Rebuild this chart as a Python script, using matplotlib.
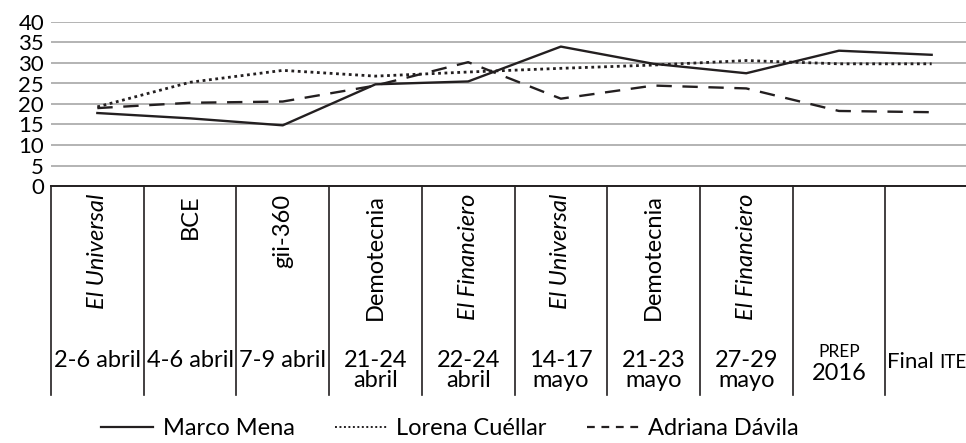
import matplotlib.pyplot as plt
import matplotlib.transforms as mtransforms
from matplotlib.lines import Line2D

plt.rcParams['font.family'] = ['Lato', 'DejaVu Sans']

# pollster / date labels for each poll
pollsters = ['El Universal', 'BCE', 'gii-360', 'Demotecnia', 'El Financiero',
             'El Universal', 'Demotecnia', 'El Financiero', '', '']
pollster_italic = [True, False, False, False, True, True, False, True, False, False]
dates = ['2-6 abril', '4-6 abril', '7-9 abril', '21-24\nabril', '22-24\nabril',
         '14-17\nmayo', '21-23\nmayo', '27-29\nmayo', 'PREP\n2016', 'Final ITE']

marco_mena = [17.8, 16.5, 14.8, 24.8, 25.5, 34.0, 29.8, 27.5, 33.0, 32.0]
lorena_cuellar = [19.3, 25.3, 28.2, 26.8, 27.8, 28.7, 29.5, 30.6, 29.8, 29.8]
adriana_davila = [19.0, 20.3, 20.6, 24.5, 30.2, 21.3, 24.5, 23.8, 18.3, 18.0]

fig = plt.figure(figsize=(9.66, 4.43), dpi=100)
ax = fig.add_axes([51 / 966, 1 - 186 / 443, 927 / 966, 164 / 443])

x = list(range(len(dates)))
ax.plot(x, marco_mena, color='#231f20', lw=1.7, linestyle='-')
ax.plot(x, lorena_cuellar, color='#231f20', lw=2.0, linestyle=(0, (1.0, 1.3)))
ax.plot(x, adriana_davila, color='#231f20', lw=1.7, linestyle=(0, (6.5, 4.5)))

ax.set_xlim(-0.5, len(dates) - 0.5)
ax.set_ylim(0, 40)
ax.set_yticks(range(0, 41, 5))
ax.tick_params(axis='y', length=0, labelsize=16, pad=5)
ax.set_xticks([])
ax.grid(axis='y', color='#b3b3b3', lw=1.4)
ax.set_axisbelow(True)
for s in ['left', 'right', 'top']:
    ax.spines[s].set_visible(False)
ax.spines['bottom'].set_color('#231f20')
ax.spines['bottom'].set_linewidth(1.4)

# category table under the axis
trans = mtransforms.blended_transform_factory(ax.transData, fig.transFigure)
y_top = 1 - 186 / 443
y_bot = 1 - 395 / 443
for i in range(len(dates) + 1):
    fig.add_artist(Line2D([i - 0.5, i - 0.5], [y_top, y_bot], transform=trans,
                          color='#231f20', lw=1.2))

for i, name in enumerate(pollsters):
    if name:
        ax.text(i, 1 - 194 / 443, name, transform=trans, rotation=90,
                ha='center', va='top', fontsize=17,
                style='italic' if pollster_italic[i] else 'normal')

for i, d in enumerate(dates):
    if d.startswith('PREP'):
        top, bottom = d.split('\n')
        ax.text(i, 1 - 352 / 443, top, transform=trans, ha='center', va='center', fontsize=12.5)
        ax.text(i, 1 - 374 / 443, bottom, transform=trans, ha='center', va='center', fontsize=17)
    elif d.startswith('Final'):
        t = ax.text(i - 0.48, 1 - 362 / 443, 'Final ', transform=trans,
                    ha='left', va='center', fontsize=16)
        ax.annotate('ITE', xycoords=t, xy=(1, 0.5), va='center', ha='left', fontsize=13.5)
    else:
        ax.text(i, 1 - 350 / 443, d, transform=trans, ha='center', va='top',
                fontsize=17, linespacing=0.95)

handles = [
    Line2D([], [], color='#231f20', lw=1.6, linestyle='-'),
    Line2D([], [], color='#231f20', lw=1.4, linestyle=(0, (1, 1.3))),
    Line2D([], [], color='#231f20', lw=1.6, linestyle=(0, (3.5, 3))),
]
fig.legend(handles, ['Marco Mena', 'Lorena Cuéllar', 'Adriana Dávila'],
           loc='lower center', bbox_to_anchor=(0.466, -0.04), ncol=3,
           frameon=False, fontsize=17, handlelength=2.2, columnspacing=1.7,
           handletextpad=0.4)

fig.savefig('out.png', dpi=100)
